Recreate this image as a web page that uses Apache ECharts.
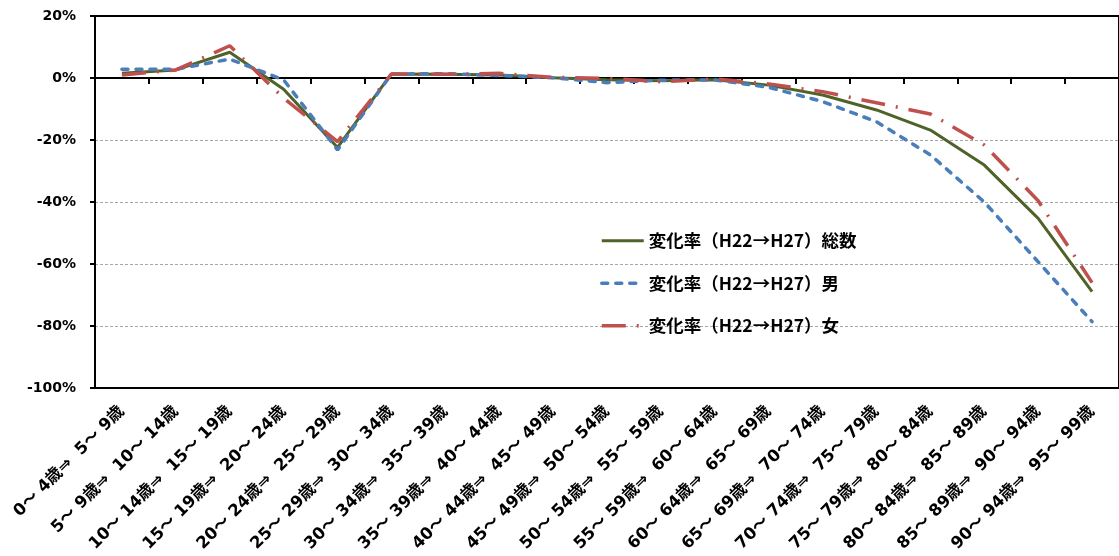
<!DOCTYPE html>
<html>
<head>
<meta charset="utf-8">
<script src="https://cdn.jsdelivr.net/npm/echarts@6/dist/echarts.min.js"></script>
<style>
html,body{margin:0;padding:0;background:#fff;}
#chart{width:1119px;height:556px;}
</style>
</head>
<body>
<div id="chart"></div>
<script>
const categories = [
  '0～ 4歳⇒  5～ 9歳', '5～ 9歳⇒  10～ 14歳', '10～ 14歳⇒  15～ 19歳', '15～ 19歳⇒  20～ 24歳',
  '20～ 24歳⇒  25～ 29歳', '25～ 29歳⇒  30～ 34歳', '30～ 34歳⇒  35～ 39歳', '35～ 39歳⇒  40～ 44歳',
  '40～ 44歳⇒  45～ 49歳', '45～ 49歳⇒  50～ 54歳', '50～ 54歳⇒  55～ 59歳', '55～ 59歳⇒  60～ 64歳',
  '60～ 64歳⇒  65～ 69歳', '65～ 69歳⇒  70～ 74歳', '70～ 74歳⇒  75～ 79歳', '75～ 79歳⇒  80～ 84歳',
  '80～ 84歳⇒  85～ 89歳', '85～ 89歳⇒  90～ 94歳', '90～ 94歳⇒  95～ 99歳'
];
const seriesNames = ['変化率（H22→H27）総数', '変化率（H22→H27）男', '変化率（H22→H27）女'];
const totalRate = [1.5, 2.6, 8.3, -3.6, -22.4, 1.3, 1.2, 1.0, 0.1, -0.6, -0.9, -0.6, -2.3, -5.5, -10.3, -16.8, -28.1, -45.3, -68.9];
const maleRate  = [2.8, 2.8, 6.1, -0.6, -23.2, 1.3, 1.4, 0.8, 0.1, -1.5, -0.7, -0.6, -3.0, -7.6, -14.1, -24.8, -40.0, -59.3, -78.6];
const femaleRate= [1.0, 2.6, 10.4, -6.5, -20.5, 1.3, 1.2, 1.5, 0.2, -0.1, -1.2, -0.3, -1.9, -4.4, -8.0, -11.6, -21.6, -39.6, -66.0];
const yTicks = { min: -100, max: 20, interval: 20 };

const FONT = "'Noto Sans CJK JP', 'Noto Sans', sans-serif";
const XFONT = "'DejaVu Sans', 'Noto Sans CJK JP', sans-serif";
const colors = ['#4F6228', '#4A7EBB', '#C0504D'];
const styles = [
  { color: colors[0], width: 3, type: 'solid' },
  { color: colors[1], width: 3.5, type: [6, 8], cap: 'round' },
  { color: colors[2], width: 3.5, type: [24, 11, 2, 11] }
];
const chart = echarts.init(document.getElementById('chart'), null, { renderer: 'canvas' });
chart.setOption({
  animation: false,
  backgroundColor: '#fff',
  grid: { left: 95, right: -2, top: 16, bottom: 168, show: true, borderColor: '#000', borderWidth: 2, containLabel: false },
  legend: {
    orient: 'vertical', left: 595, top: 227, itemWidth: 42, itemHeight: 14, itemGap: 25,
    data: seriesNames.map((n, i) => ({ name: n, lineStyle: styles[i] })),
    itemStyle: { opacity: 0 },
    textStyle: { fontFamily: FONT, fontWeight: 'bold', fontSize: 17.5, color: '#000' }
  },
  xAxis: [{
    type: 'category', data: categories, boundaryGap: true,
    axisLine: { onZero: false, show: false },
    axisTick: { show: false },
    axisLabel: { interval: 0, rotate: 45, margin: 21, fontFamily: XFONT, fontWeight: 'bold', fontSize: 16.5, color: '#000' }
  }, {
    type: 'category', data: categories, boundaryGap: true, position: 'bottom',
    axisLine: { onZero: true, lineStyle: { color: '#000', width: 2 } },
    axisTick: { show: true, interval: 0, length: 6, lineStyle: { color: '#000', width: 2 } },
    axisLabel: { show: false }
  }],
  yAxis: {
    type: 'value', min: yTicks.min, max: yTicks.max, interval: yTicks.interval,
    axisLine: { show: true, lineStyle: { color: '#000', width: 2 } },
    axisTick: { show: true, length: 5, lineStyle: { color: '#000', width: 2 } },
    axisLabel: { formatter: v => v + '%', margin: 19, fontFamily: XFONT, fontWeight: 'bold', fontSize: 14, color: '#000' },
    splitLine: { show: true, lineStyle: { color: ['transparent', '#a6a6a6', '#a6a6a6', '#a6a6a6', '#a6a6a6', 'transparent', 'transparent'], type: [3, 2], width: 1 } }
  },
  series: [{
    name: seriesNames[0], type: 'line', data: totalRate, symbol: 'none', xAxisIndex: 0,
    lineStyle: styles[0], itemStyle: { color: colors[0] }
  }, {
    name: seriesNames[1], type: 'line', data: maleRate, symbol: 'none', xAxisIndex: 0,
    lineStyle: styles[1], itemStyle: { color: colors[1] }
  }, {
    name: seriesNames[2], type: 'line', data: femaleRate, symbol: 'none', xAxisIndex: 0,
    lineStyle: styles[2], itemStyle: { color: colors[2] }
  }]
});
</script>
</body>
</html>
